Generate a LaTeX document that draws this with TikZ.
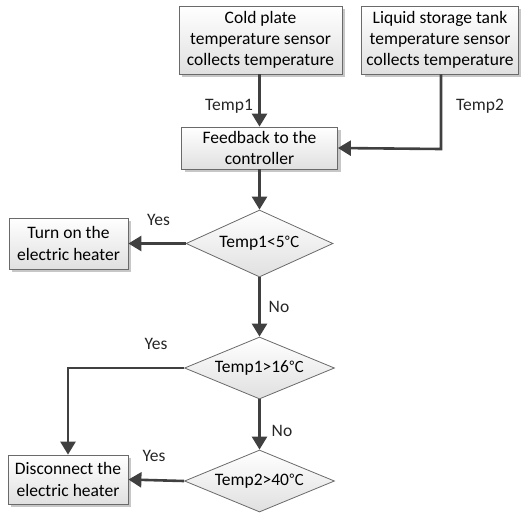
\documentclass[tikz,border=0pt]{standalone}
\usepackage{fontspec}
\setmainfont{Carlito}
\newfontfamily\cjk{Noto Sans CJK SC}
\usetikzlibrary{shapes.geometric,arrows.meta,shadows}
\definecolor{linec}{HTML}{404040}
\definecolor{borderc}{HTML}{6A6A6A}
\definecolor{fillbot}{HTML}{E0E0E0}
\newcommand{\degc}{{\cjk\fontsize{15}{18}\selectfont ℃}}
\tikzset{
  procbox/.style={rectangle, draw=borderc, line width=0.8pt, top color=white, bottom color=fillbot,
    inner sep=0pt, align=center, general shadow={fill=black!22, shadow xshift=3pt, shadow yshift=-3pt}},
  decbox/.style={diamond, aspect=2.4, draw=borderc, line width=0.8pt, top color=white, bottom color=fillbot,
    inner sep=0pt, align=center},
  flow/.style={draw=linec, line width=2.6pt, -{Triangle[width=15pt,length=13pt]}},
  lbl/.style={inner sep=0pt, text=black!85},
}
\begin{document}
\begin{tikzpicture}[x=1pt,y=-1pt,font=\fontsize{17.5}{21.3}\selectfont]
\useasboundingbox (0,0) rectangle (521,512);
\node[procbox, minimum width=163pt, minimum height=68pt] (cold) at (260.5,40) {Cold plate\\temperature sensor\\collects temperature};
\node[procbox, minimum width=157pt, minimum height=68pt] (liquid) at (440,40) {Liquid storage tank\\temperature sensor\\collects temperature};
\node[procbox, minimum width=156pt, minimum height=42pt] (feed) at (259.5,148) {Feedback to the\\controller};
\node[procbox, minimum width=119pt, minimum height=51pt] (turnon) at (68.5,243.5) {Turn on the\\electric heater};
\node[procbox, minimum width=120pt, minimum height=49pt] (disc) at (68,479.5) {Disconnect the\\electric heater};
\node[decbox, minimum width=147pt, minimum height=67pt] (d1) at (259.5,243.5) {Temp1<5\degc};
\node[decbox, minimum width=150pt, minimum height=62pt] (d2) at (259.5,368) {Temp1>16\degc};
\node[decbox, minimum width=150pt, minimum height=62pt] (d3) at (259.5,481) {Temp2>40\degc};
\coordinate (bend2) at (441,149);
\coordinate (bendy) at (68,368);
\draw[flow] (cold.south -| feed.north) -- (feed.north);
\draw[flow] (liquid.south -| bend2) -- (bend2) -- (feed.east);
\draw[flow] (feed.south) -- (d1.north);
\draw[flow] (d1.west) -- (turnon.east);
\draw[flow] (d1.south) -- (d2.north);
\draw[flow] (d2.west) -- (bendy) -- (disc.north);
\draw[flow] (d2.south) -- (d3.north);
\draw[flow] (d3.west) -- (disc.east);
\node[lbl] (t1) at (229,106) {Temp1};
\node[lbl] (t2) at (480,106) {Temp2};
\node[lbl] (y1) at (158.5,220) {Yes};
\node[lbl] (n1) at (279,307) {No};
\node[lbl] (y2) at (156,344) {Yes};
\node[lbl] (n2) at (282,431) {No};
\node[lbl] (y3) at (154,456) {Yes};
\end{tikzpicture}
\end{document}
